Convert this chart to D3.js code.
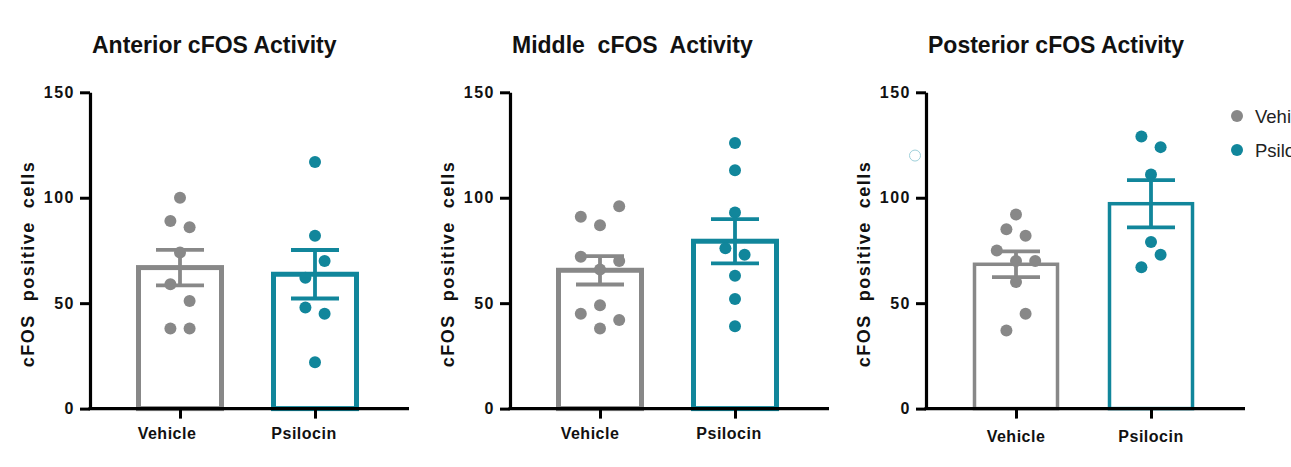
<!DOCTYPE html>
<html>
<head>
<meta charset="utf-8">
<script src="https://cdn.jsdelivr.net/npm/d3@7"></script>
<style>
  html, body { margin: 0; padding: 0; background: #ffffff; overflow: hidden; }
  svg { display: block; font-family: "Liberation Sans", Arial, Helvetica, sans-serif; }
  .ytick text { font-size: 16px; font-weight: bold; letter-spacing: 1.5px; fill: #111; }
</style>
</head>
<body>
<svg id="chart" width="1291" height="467"></svg>
<script>
// Treatment groups and region titles
const groups = ["Vehicle", "Psilocin"];
const titles = ["Anterior cFOS Activity", "Middle  cFOS  Activity", "Posterior cFOS Activity"];
const yTicks = [0, 50, 100, 150];
const yLabel = "cFOS  positive  cells";

// cFOS-positive cell counts per animal, with the scatter column each dot sits in
const anteriorVehicle      = [100, 89, 86, 74, 59, 51, 38, 38];
const anteriorVehicleCol   = [0, -1, 1, 0, -1, 1, -1, 1];
const anteriorPsilocin     = [117, 82, 70, 62, 48, 45, 22];
const anteriorPsilocinCol  = [0, 0, 1, -1, -1, 1, 0];

const middleVehicle        = [96, 91, 87, 72, 70, 66, 49, 45, 42, 38];
const middleVehicleCol     = [2, -2, 0, -2, 2, 0, 0, -2, 2, 0];
const middlePsilocin       = [126, 113, 93, 76, 73, 63, 52, 39];
const middlePsilocinCol    = [0, 0, 0, -1, 1, 0, 0, 0];

const posteriorVehicle     = [92, 85, 82, 75, 70, 70, 60, 45, 37];
const posteriorVehicleCol  = [0, -1, 1, -2, 0, 2, 0, 1, -1];
const posteriorPsilocin    = [129, 124, 111, 79, 73, 67];
const posteriorPsilocinCol = [-1, 1, 0, 0, 1, -1];

const panelData = [
  [[anteriorVehicle, anteriorVehicleCol], [anteriorPsilocin, anteriorPsilocinCol]],
  [[middleVehicle, middleVehicleCol], [middlePsilocin, middlePsilocinCol]],
  [[posteriorVehicle, posteriorVehicleCol], [posteriorPsilocin, posteriorPsilocinCol]]
];

// Layout and styling
const colors = { Vehicle: "#888888", Psilocin: "#11869b" };
const panelLeft = [90, 510, 926];
const barStroke = [5, 5, 3.5];
const xLabelShift = [[-13, -11], [-10, -6], [0, 0]];
const xLabelBaseline = [439, 439, 442];
const plotW = 319;
const yTop = 92.3, yBottom = 408.6;
const colStep = 9.6;
const barW = 83;
const capHalf = 24;

const svg = d3.select("#chart");
const y = d3.scaleLinear().domain([0, 150]).range([yBottom, yTop]);
const x = d3.scalePoint().domain(groups).range([90, 225]);

panelData.forEach((pd, p) => {
  const g = svg.append("g").attr("transform", `translate(${panelLeft[p]},0)`);

  // title
  g.append("text")
    .attr("x", 2).attr("y", 52.5)
    .attr("font-size", 23).attr("font-weight", "bold")
    .style("white-space", "pre")
    .attr("fill", "#111")
    .text(titles[p]);

  // y-axis label
  g.append("text")
    .attr("transform", `translate(${-56},${264}) rotate(-90)`)
    .attr("text-anchor", "middle")
    .attr("font-size", 18).attr("font-weight", "bold")
    .attr("letter-spacing", 1.5)
    .style("white-space", "pre")
    .attr("fill", "#111")
    .text(yLabel);

  // bars, dots and SEM whiskers
  pd.forEach(([vals, cols], i) => {
    const grp = groups[i];
    const cx = x(grp);
    const mean = d3.mean(vals);
    const sem = d3.deviation(vals) / Math.sqrt(vals.length);
    const sw = barStroke[p];

    g.append("rect")
      .attr("x", cx - barW / 2)
      .attr("y", y(mean))
      .attr("width", barW)
      .attr("height", y(0) - y(mean))
      .attr("fill", "none")
      .attr("stroke", colors[grp])
      .attr("stroke-width", sw);

    g.selectAll(null).data(vals.map((v, k) => ({ v, c: cols[k] })))
      .enter().append("circle")
      .attr("cx", d => cx + d.c * colStep)
      .attr("cy", d => y(d.v))
      .attr("r", 6)
      .attr("fill", colors[grp]);

    const eb = g.append("g").attr("stroke", colors[grp]).attr("stroke-width", 3.8);
    eb.append("line").attr("x1", cx).attr("x2", cx)
      .attr("y1", y(mean - sem)).attr("y2", y(mean + sem));
    [mean - sem, mean + sem].forEach(v => {
      eb.append("line").attr("x1", cx - capHalf).attr("x2", cx + capHalf)
        .attr("y1", y(v)).attr("y2", y(v));
    });
  });

  // y axis
  const ya = g.append("g").attr("class", "ytick")
    .call(d3.axisLeft(y).tickValues(yTicks).tickSize(10).tickSizeOuter(0).tickPadding(5));
  ya.select(".domain").attr("stroke", "#000").attr("stroke-width", 3.2);
  ya.selectAll(".tick line").attr("stroke", "#000").attr("stroke-width", 3);

  // x axis baseline and group ticks
  g.append("line")
    .attr("x1", -1.5).attr("x2", plotW)
    .attr("y1", y(0)).attr("y2", y(0))
    .attr("stroke", "#000").attr("stroke-width", 3.2);
  const xa = g.append("g").attr("transform", `translate(0,${y(0)})`)
    .call(d3.axisBottom(x).tickSize(10).tickSizeOuter(0).tickFormat(""));
  xa.select(".domain").remove();
  xa.selectAll(".tick line").attr("stroke", "#000").attr("stroke-width", 3);

  g.selectAll(null).data(groups).enter().append("text")
    .attr("x", (d, i) => x(d) + xLabelShift[p][i])
    .attr("y", xLabelBaseline[p])
    .attr("text-anchor", "middle")
    .attr("font-size", 16).attr("font-weight", "bold")
    .attr("letter-spacing", 0.5)
    .attr("fill", "#111")
    .text(d => d);
});

// faint open marker beside the posterior axis
svg.append("circle")
  .attr("cx", panelLeft[2] - 11).attr("cy", y(120))
  .attr("r", 5.5)
  .attr("fill", "none")
  .attr("stroke", "#9fd0da")
  .attr("stroke-width", 1);

// legend (runs past the right edge of the page)
const legend = svg.append("g").attr("transform", "translate(1237,0)");
groups.forEach((grp, i) => {
  const ly = 116 + i * 34;
  legend.append("circle").attr("cx", 0).attr("cy", ly).attr("r", 6).attr("fill", colors[grp]);
  legend.append("text").attr("x", 18).attr("y", ly + 6.5)
    .attr("font-size", 18.5).attr("fill", "#222")
    .text(grp);
});
</script>
</body>
</html>
